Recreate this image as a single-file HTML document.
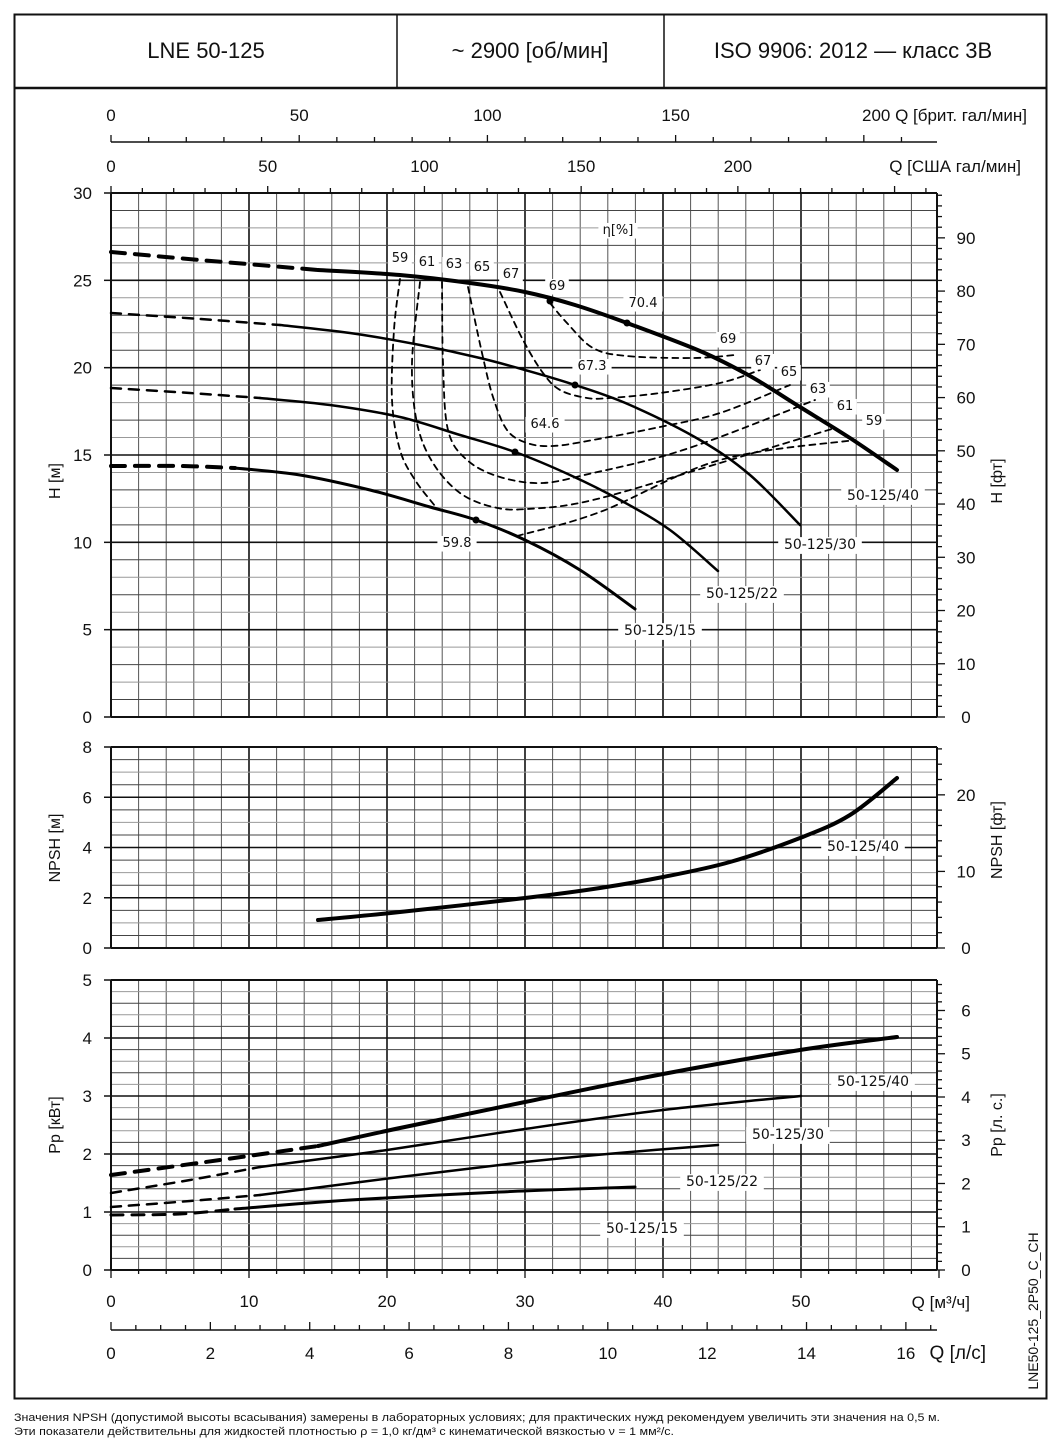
<!DOCTYPE html>
<html><head><meta charset="utf-8"><style>
html,body{margin:0;padding:0;background:#fff;width:1061px;height:1452px;overflow:hidden}
svg{display:block}
text{font-family:"Liberation Sans",sans-serif;fill:#111}
.t{font-size:17px}
.s{font-size:12px;font-family:"DejaVu Sans","Liberation Sans",sans-serif}
.f{font-family:"Liberation Sans",sans-serif}
</style></head><body>
<svg id="c" width="1061" height="1452" viewBox="0 0 1061 1452" xmlns="http://www.w3.org/2000/svg"></svg>
<script>
var s='';
function L(x1,y1,x2,y2,w,c){s+='<line x1="'+x1+'" y1="'+y1+'" x2="'+x2+'" y2="'+y2+'" stroke="'+(c||'#111')+'" stroke-width="'+w+'"/>';}
function T(x,y,t,cls,anc,extra){s+='<text x="'+x+'" y="'+y+'" class="'+cls+'" text-anchor="'+(anc||'middle')+'" '+(extra||'')+'>'+t+'</text>';}
function P(pts,w,dash){
 s+='<path d="'+smooth(pts)+'" fill="none" stroke="#000" stroke-width="'+w+'" stroke-linecap="round" stroke-linejoin="round"'+(dash?' stroke-dasharray="'+dash+'" stroke-linecap="butt"':'')+'/>';}
function smooth(p){var d='M'+p[0][0]+' '+p[0][1];
 for(var i=0;i<p.length-1;i++){var p0=p[i-1]||p[i],p1=p[i],p2=p[i+1],p3=p[i+2]||p2;
  d+=' C'+(p1[0]+(p2[0]-p0[0])/6).toFixed(1)+' '+(p1[1]+(p2[1]-p0[1])/6).toFixed(1)+' '+(p2[0]-(p3[0]-p1[0])/6).toFixed(1)+' '+(p2[1]-(p3[1]-p1[1])/6).toFixed(1)+' '+p2[0]+' '+p2[1];}
 return d;}
var X0=111,X1=937,kx=13.8;
function qx(q){return X0+q*kx;}
s+='<rect x="14.5" y="14.5" width="1032" height="1384" fill="none" stroke="#111" stroke-width="2"/>';
L(14,88,1047,88,2.5);L(397,14,397,88,1.5);L(664,14,664,88,1.5);
T(206,58,'LNE 50-125','t','middle','style="font-size:22px"');
T(530,58,'~ 2900 [об/мин]','t','middle','style="font-size:22px"');
T(853,58,'ISO 9906: 2012 — класс 3B','t','middle','style="font-size:22px"');
function grid(yt,yb,vmax,minor,major){
 var k=(yb-yt)/vmax;
 for(var q=0;q<=60;q+=2){var x=qx(q);if(x>X1)break;L(x,yt,x,yb,q%10==0?1.6:1,q%10==0?'#111':'#555');}
 var n=Math.round(vmax/minor);
 for(var i=0;i<=n;i++){var v=i*minor,y=yb-v*k;var mj=Math.abs(v/major-Math.round(v/major))<1e-6;
  L(X0,y,X1,y,mj?1.6:1,mj?'#111':(i%2?'#444':'#999'));}
 L(X0,yt,X1,yt,2);L(X0,yb,X1,yb,2);L(X0,yt,X0,yb,2);L(X1,yt,X1,yb,2);
 return k;}
var kH=grid(193,717,30,1,5),kN=grid(747,948,8,0.5,2),kP=grid(980,1270,5,0.2,1);
for(var v=0;v<=30;v+=5){var y=717-v*kH;L(104,y,X0,y,1.5);T(92,y+6,v,'t','end');}
for(var v=0;v<=8;v+=2){var y=948-v*kN;L(104,y,X0,y,1.5);T(92,y+6,v,'t','end');}
for(var v=0;v<=5;v+=1){var y=1270-v*kP;L(104,y,X0,y,1.5);T(92,y+6,v,'t','end');}
T(0,0,'H [м]','t','middle','transform="translate(60,481) rotate(-90)" style="font-size:16px"');
T(0,0,'NPSH [м]','t','middle','transform="translate(60,848) rotate(-90)" style="font-size:16px"');
T(0,0,'Pp [кВт]','t','middle','transform="translate(60,1125) rotate(-90)" style="font-size:16px"');
function rax(yb,yt,k,step,lstep){for(var i=0;;i++){var v=i*step,y=yb-v*k;if(y<yt-0.5)break;var mj=Math.abs(v/lstep-Math.round(v/lstep))<1e-6;L(X1,y,X1+(mj?8:5),y,1.3);if(mj)T(966,y+6,Math.round(v),'t','middle');}}
rax(717,193,kH*0.3048,2,10);
rax(948,747,kN*0.3048,2,10);
rax(1270,980,kP*0.7457,0.2,1);
T(0,0,'H [фт]','t','middle','transform="translate(1002,481) rotate(-90)" style="font-size:16px"');
T(0,0,'NPSH [фт]','t','middle','transform="translate(1002,840) rotate(-90)" style="font-size:16px"');
T(0,0,'Pp [л. с.]','t','middle','transform="translate(1002,1125) rotate(-90)" style="font-size:16px"');
T(0,0,'LNE50-125_2P50_C_CH','t','middle','transform="translate(1038,1311) rotate(-90)" style="font-size:14px"');
L(X0,142,X1,142,1.5);
for(var g=0;;g+=10){var x=qx(g*0.272765);if(x>X1+0.5)break;L(x,142,x,g%50==0?135:137,1.3);}
[0,50,100,150].forEach(function(g){T(qx(g*0.272765),121,g,'t');});
T(1027,121,'200 Q [брит. гал/мин]','t','end');
for(var g=0;;g+=10){var x=qx(g*0.227125);if(x>X1+0.5)break;L(x,193,x,g%50==0?186:188,1.3);}
[0,50,100,150,200].forEach(function(g){T(qx(g*0.227125),172,g,'t');});
T(1021,172,'Q [США гал/мин]','t','end');
for(var q=0;q<=60;q+=2){var x=qx(q);L(x,1270,x,q%10==0?1278:1274,1.3);}
for(var q=0;q<=50;q+=10)T(qx(q),1307,q,'t');
T(970,1308,'Q [м³/ч]','t','end');
L(X0,1330,X1,1330,1.5);
for(var l=0;l<=16.5;l+=0.5){var x=qx(l*3.6);L(x,1330,x,l%2==0?1322:1325,1.3);}
for(var l=0;l<=16;l+=2)T(qx(l*3.6),1359,l,'t');
T(986,1359,'Q [л/с]','t','end','style="font-size:19px"');
P([[111,252],[200,260],[318,270]],4,'14 10');
P([[318,270],[400,275],[470,283],[525,292],[575,305],[627,323],[700,351],[750,376],[800,407],[850,438],[897,470]],4);
P([[111,313],[200,319],[280,325]],2.5,'10 8');
P([[280,325],[350,333],[420,345],[480,358],[525,370],[575,385],[630,405],[700,440],[750,475],[800,525]],2.5);
P([[111,388],[190,393],[260,398]],2.5,'10 8');
P([[260,398],[330,405],[400,417],[460,435],[515,452],[570,475],[620,500],[670,530],[718,571]],2.5);
P([[111,466],[180,466],[235,468]],4,'14 10');
P([[235,468],[300,475],[370,490],[430,507],[476,520],[525,540],[580,570],[635,609]],3);
var D='6 5';
P([[400,279],[394,330],[392,400],[400,450],[415,480],[435,506]],1.8,D);
P([[517,536],[600,512],[720,460],[855,440]],1.8,D);
P([[420,282],[412,363],[417,423],[433,463],[460,493],[493,507],[527,509],[593,500],[720,463],[835,428]],1.8,D);
P([[442,282],[443,363],[448,430],[467,460],[500,477],[543,483],[593,473],[660,457],[720,437],[815,400]],1.8,D);
P([[468,287],[482,353],[493,397],[507,430],[527,443],[553,446],[593,440],[660,427],[720,413],[790,385]],1.8,D);
P([[500,292],[523,340],[543,373],[560,390],[587,398],[610,398],[660,393],[720,383],[760,370]],1.8,D);
P([[550,303],[567,323],[593,348],[627,356],[693,358],[735,355]],1.8,D);
[[627,323],[575,385],[515,452],[476,520],[550,301]].forEach(function(p){s+='<circle cx="'+p[0]+'" cy="'+p[1]+'" r="3.5" fill="#000"/>';});
function lab(x,y,t,fs){var w=t.length*fs*0.6+8;s+='<rect x="'+(x-w/2)+'" y="'+(y-fs*0.85)+'" width="'+w+'" height="'+(fs*1.2)+'" fill="#fff"/>';T(x,y,t,'s','middle','style="font-size:'+fs+'px"');}
[[400,262,'59'],[427,266,'61'],[454,268,'63'],[482,271,'65'],[511,278,'67'],[557,290,'69'],[643,307,'70.4'],[728,343,'69'],[763,365,'67'],[789,376,'65'],[818,393,'63'],[845,410,'61'],[874,425,'59'],[592,370,'67.3'],[545,428,'64.6'],[457,547,'59.8'],[618,234,'η[%]']].forEach(function(a){lab(a[0],a[1],a[2],13);});
lab(883,500,'50-125/40',14);lab(820,549,'50-125/30',14);lab(742,598,'50-125/22',14);lab(660,635,'50-125/15',14);
P([[318,920],[400,912],[525,898],[600,888],[663,877],[730,862],[800,838],[850,815],[897,778]],4);
lab(863,851,'50-125/40',14);
P([[111,1175],[220,1160],[318,1146]],4,'14 10');
P([[318,1146],[400,1128],[525,1102],[663,1074],[800,1050],[897,1037]],4);
P([[111,1193],[190,1180],[260,1167]],2.5,'10 8');
P([[260,1167],[387,1150],[525,1129],[663,1110],[801,1096]],2.5);
P([[111,1207],[190,1201],[260,1195]],2.5,'10 8');
P([[260,1195],[400,1177],[525,1162],[630,1152],[718,1145]],2.5);
P([[111,1215],[180,1214],[235,1209]],3,'12 9');
P([[235,1209],[350,1200],[500,1192],[635,1187]],3);
lab(873,1086,'50-125/40',14);lab(788,1139,'50-125/30',14);lab(722,1186,'50-125/22',14);lab(642,1233,'50-125/15',14);
T(14,1421,'Значения NPSH (допустимой высоты всасывания) замерены в лабораторных условиях; для практических нужд рекомендуем увеличить эти значения на 0,5 м.','f','start','style="font-size:11px" textLength="926" lengthAdjust="spacingAndGlyphs"');
T(14,1435,'Эти показатели действительны для жидкостей плотностью ρ = 1,0 кг/дм³ с кинематической вязкостью ν = 1 мм²/с.','f','start','style="font-size:11px" textLength="660" lengthAdjust="spacingAndGlyphs"');
document.getElementById('c').innerHTML=s;
</script>
</body></html>
